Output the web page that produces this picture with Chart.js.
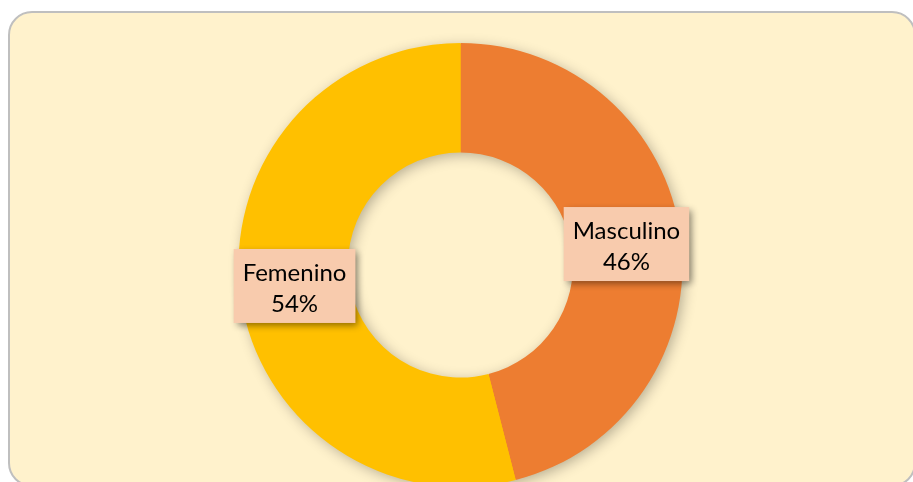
<!DOCTYPE html>
<html>
<head>
<meta charset="utf-8">
<script src="https://cdn.jsdelivr.net/npm/chart.js@4"></script>
<style>
  html, body { margin: 0; padding: 0; overflow: hidden; background: #ffffff; }
  #frame {
    position: absolute; left: 8px; top: 11px; width: 908px; height: 476px;
    background: #FFF2CC; border: 2px solid #BFBFBF; border-radius: 24px; box-sizing: border-box;
  }
  #wrap { position: absolute; left: 0; top: 0; width: 913px; height: 482px; }
</style>
</head>
<body>
<div id="frame"></div>
<div id="wrap"><canvas id="chart"></canvas></div>
<script>
// DATA
const categories = ['Masculino', 'Femenino'];
const values = [46, 54];
const colors = ['#ED7D31', '#FFC000'];

// soft shadow under the whole ring, drawn once so slices don't shade each other
const ringShadow = {
    id: 'ringShadow',
    beforeDatasetsDraw(chart) {
        const arc = chart.getDatasetMeta(0).data[0];
        if (!arc) return;
        const ctx = chart.ctx;
        ctx.save();
        ctx.shadowColor = 'rgba(0,0,0,0.30)';
        ctx.shadowBlur = 14;
        ctx.shadowOffsetX = 3;
        ctx.shadowOffsetY = 3;
        ctx.fillStyle = colors[1];
        ctx.beginPath();
        ctx.arc(arc.x, arc.y, arc.outerRadius - 1, 0, Math.PI * 2);
        ctx.arc(arc.x, arc.y, arc.innerRadius + 1, Math.PI * 2, 0, true);
        ctx.closePath();
        ctx.fill();
        ctx.restore();
    }
};

// callout boxes with name + percent
const calloutLabels = {
    id: 'calloutLabels',
    afterDatasetsDraw(chart) {
        const ctx = chart.ctx;
        const meta = chart.getDatasetMeta(0);
        const total = values.reduce((a, b) => a + b, 0);
        ctx.save();
        ctx.font = '24px Lato';
        meta.data.forEach((arc, i) => {
            const pos = arc.tooltipPosition();
            const lines = [categories[i], Math.round(values[i] / total * 100) + '%'];
            const w = Math.max(...lines.map(t => ctx.measureText(t).width)) + 18;
            const h = 74;
            const x = pos.x - w / 2, y = pos.y - h / 2;

            ctx.save();
            ctx.shadowColor = 'rgba(0,0,0,0.45)';
            ctx.shadowBlur = 7;
            ctx.shadowOffsetX = 3;
            ctx.shadowOffsetY = 3;
            ctx.fillStyle = '#F8CBAD';
            ctx.fillRect(x, y, w, h);
            ctx.restore();

            ctx.fillStyle = '#000000';
            ctx.textAlign = 'center';
            ctx.textBaseline = 'alphabetic';
            ctx.fillText(lines[0], pos.x, y + 32);
            ctx.fillText(lines[1], pos.x, y + 63);
        });
        ctx.restore();
    }
};

new Chart(document.getElementById('chart'), {
    type: 'doughnut',
    data: {
        labels: categories,
        datasets: [{
            data: values,
            backgroundColor: colors,
            borderWidth: 0,
            hoverOffset: 0,
            clip: false
        }]
    },
    options: {
        responsive: true,
        maintainAspectRatio: false,
        animation: false,
        radius: 222,
        cutout: 110,
        rotation: 0,
        layout: { padding: { top: 48, bottom: 0, left: 8, right: 0 } },
        plugins: {
            legend: { display: false },
            tooltip: { enabled: false }
        },
        events: []
    },
    plugins: [ringShadow, calloutLabels]
});
</script>
</body>
</html>
